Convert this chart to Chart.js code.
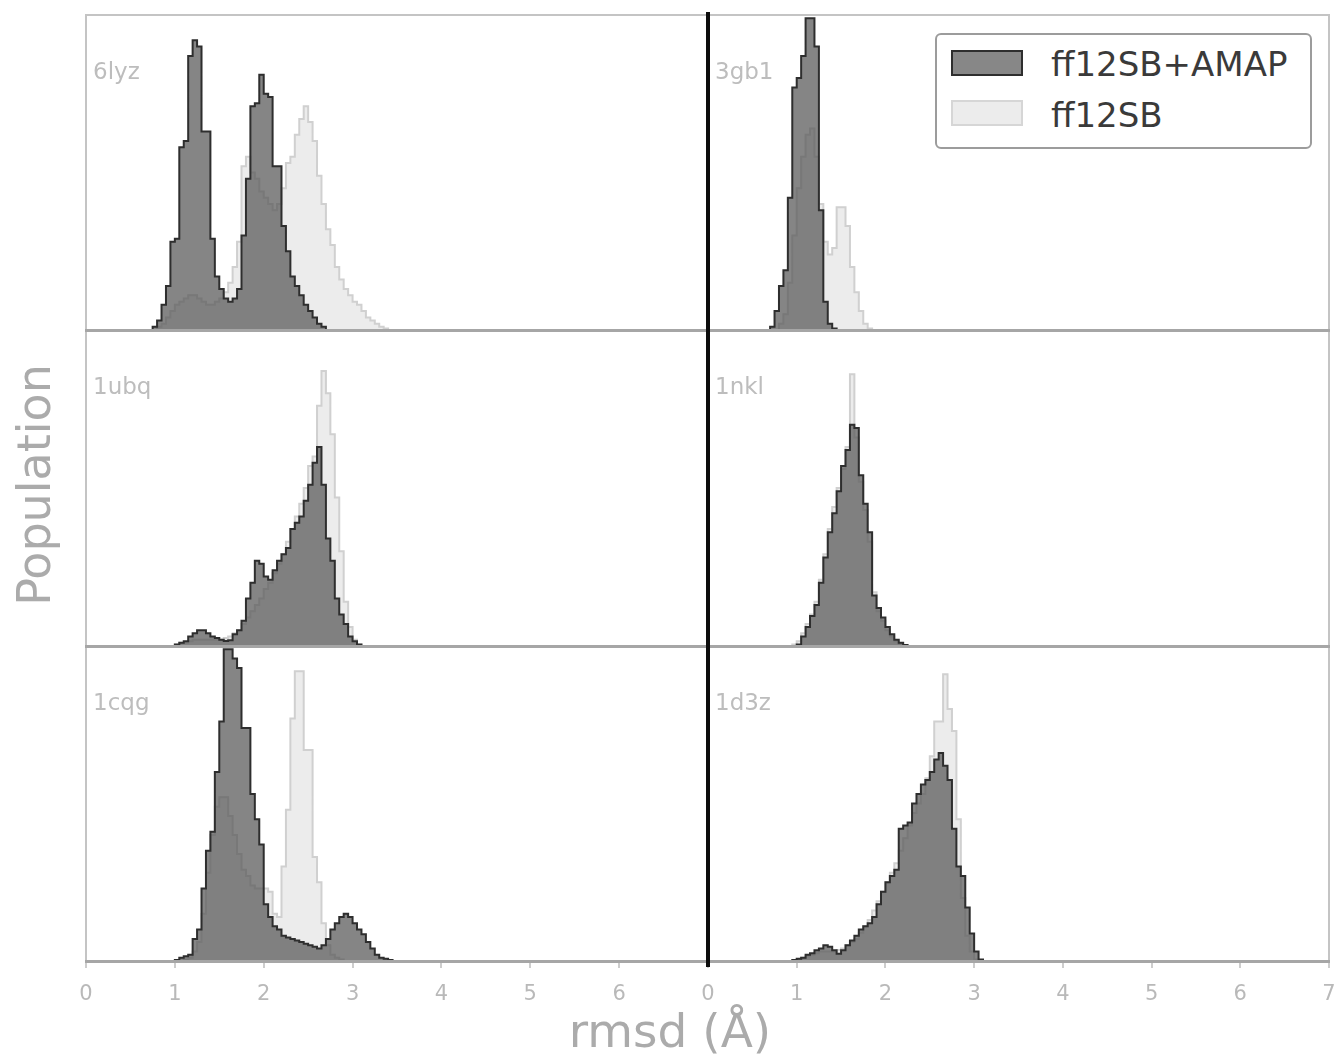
<!DOCTYPE html>
<html>
<head>
<meta charset="utf-8">
<title>rmsd histograms</title>
<script src="https://cdn.jsdelivr.net/npm/chart.js@4.4.0/dist/chart.umd.min.js"></script>
<style>
  body { margin: 0; background: #fff; }
  #fig { position: relative; width: 1340px; height: 1057px; overflow: hidden; background: #fff;
         font-family: "DejaVu Sans", sans-serif; }
  #fig canvas { position: absolute; }
  .line { position: absolute; }
  .tag { position: absolute; font-size: 23px; line-height: 1; color: #bdbdbd; }
  .axis-title { position: absolute; white-space: nowrap; color: #ababab; line-height: 1; }
  #legend { position: absolute; left: 935px; top: 33px; width: 377px; height: 116px; box-sizing: border-box;
            border: 2px solid #9c9c9c; border-radius: 6px; background: #fff; }
  #legend .sw { position: absolute; left: 14px; width: 72px; height: 26px; box-sizing: border-box; }
  #legend .lt { position: absolute; left: 114px; font-size: 34px; line-height: 1; color: #3a3a3a; }
</style>
</head>
<body>
<div id="fig"></div>
<script>
// Datos
const binWidth = 0.05;
const xTicks = [0, 1, 2, 3, 4, 5, 6, 7];
const panelNames = ['6lyz', '3gb1', '1ubq', '1nkl', '1cqg', '1d3z'];
const seriesNames = ['ff12SB+AMAP', 'ff12SB'];

// first bin edge of every histogram (same order as panelNames)
const amapStarts = [0.75, 0.70, 1.00, 1.00, 1.00, 0.95];
const ffStarts = [0.80, 0.80, 1.00, 0.95, 1.10, 1.00];

// population per 0.05 A bin, as % of the panel height
const amap6lyz = [1, 3, 8, 14, 28, 29, 58, 60, 87, 92, 90, 63, 63, 29, 17, 13, 10, 9, 10, 13,
  30, 48, 71, 72, 81, 75, 74, 52, 52, 33, 25, 17, 14, 11, 8, 6, 4, 2, 1];
const ff6lyz = [1, 2, 4, 6, 8, 9, 10, 11, 11, 10, 9, 8, 8, 9, 10, 12, 15, 20, 28, 52,
  55, 50, 48, 44, 42, 40, 38, 40, 45, 53, 55, 62, 67, 71, 66, 60, 49, 40, 32, 27,
  20, 16, 13, 11, 9, 8, 6, 4, 3, 2, 1, 0.5];

const amap3gb1 = [1, 6, 14, 19, 42, 77, 80, 87, 99, 99, 90, 38, 9, 2, 0.5];
const ff3gb1 = [2, 5, 15, 30, 45, 55, 62, 64, 55, 40, 28, 24, 26, 39, 39, 33, 20, 12, 6, 2, 0.5];

const amap1ubq = [0.5, 1, 1.5, 3, 4, 5, 5, 4, 3, 2.5, 2, 1.6, 1.8, 3.7, 5, 8, 15, 20, 27, 26,
  22, 21, 24, 27, 29, 31, 37, 39, 41, 46, 51, 58, 63, 51, 34, 27, 15, 10, 7, 3, 1.5, 0.5];
const ff1ubq = [0.5, 1, 1, 1.5, 2, 2, 2, 2, 2, 2, 2, 2.5, 3, 4, 5, 7, 9, 11, 13, 15,
  18, 20, 23, 26, 29, 33, 37, 41, 45, 50, 57, 60, 76, 87, 80, 67, 47, 30, 14, 6, 2, 0.5];

const amap1nkl = [0.5, 3, 6, 9.5, 13, 20, 28, 36, 42, 49, 57, 62, 70, 69, 54, 45, 36, 16, 12, 9,
  6, 3.7, 2, 1, 0.3];
const ff1nkl = [0.5, 1.5, 4, 7, 10, 14, 21, 29, 37, 44, 50, 56, 63, 86, 66, 52, 43, 33, 17, 11,
  8, 5, 3, 1.5, 0.5];

const amap1cqg = [0.3, 1, 1.5, 2, 7, 10, 23, 35, 41, 60, 76, 99, 99, 96, 93, 74, 74, 53, 45, 37,
  18, 14, 11, 10, 8, 7.5, 7, 6.5, 6, 5.5, 5, 4.5, 4, 5, 7, 10, 12, 14, 15, 14,
  12, 10, 8.5, 6, 4, 2, 1, 0.7, 0.3];
const ff1cqg = [0.5, 1, 3, 6, 15, 28, 40, 49, 52, 52, 46, 40, 34, 29, 27, 24, 23, 23, 23, 22,
  15, 14, 30, 48, 77, 92, 92, 67, 67, 33, 25, 12, 5, 2, 1, 0.5];

const amap1d3z = [0.3, 0.7, 1, 2, 2.5, 3.4, 4, 5, 4.5, 3.4, 2.3, 3.4, 5, 6.5, 8, 10, 11, 12, 14, 18,
  22, 25, 27, 29, 42, 43, 44, 50, 53, 56, 57.5, 60, 64, 66, 62, 57.5, 42, 30, 27, 17,
  8.7, 3, 0.5];
const ff1d3z = [0.5, 1, 1.5, 2, 2.5, 3, 3, 3, 3, 3.5, 4, 5, 6, 7, 9, 11, 13, 16, 19, 22,
  25, 28, 31, 35, 39, 43, 47, 50, 53, 58, 65, 76, 76, 91, 80, 73, 45, 20, 8, 3, 0.5];

const amapBins = [amap6lyz, amap3gb1, amap1ubq, amap1nkl, amap1cqg, amap1d3z];
const ffBins = [ff6lyz, ff3gb1, ff1ubq, ff1nkl, ff1cqg, ff1d3z];

// layout of the figure (pixels)
const cols = [{ l: 86, r: 708 }, { l: 708, r: 1329 }];
const rows = [{ t: 15, b: 330 }, { t: 330, b: 646 }, { t: 646, b: 961 }];
const M = 20;      // spare room around every plot area
const AX = 52;     // height of the x axis under the bottom row

const fig = document.getElementById('fig');

// histogram outline: both edges of every bin
function steps(start, counts) {
  const pts = [{ x: start, y: 0 }];
  counts.forEach((c, i) => {
    const left = +(start + i * binWidth).toFixed(3);
    pts.push({ x: left, y: c }, { x: +(left + binWidth).toFixed(3), y: c });
  });
  pts.push({ x: pts[pts.length - 1].x, y: 0 });
  return pts;
}

panelNames.forEach((name, i) => {
  const col = cols[i % 2];
  const row = rows[Math.floor(i / 2)];
  const bottom = Math.floor(i / 2) === 2;
  const w = col.r - col.l, h = row.b - row.t;

  const cv = document.createElement('canvas');
  cv.width = w + 2 * M;
  cv.height = h + M + (bottom ? AX : M);
  cv.style.left = (col.l - M) + 'px';
  cv.style.top = (row.t - M) + 'px';
  fig.appendChild(cv);

  new Chart(cv, {
    type: 'line',
    data: {
      datasets: [{
        label: seriesNames[0],
        data: steps(amapStarts[i], amapBins[i]),
        borderColor: '#2e2e2e',
        backgroundColor: 'rgba(86,86,86,0.72)',
        borderWidth: 2,
        fill: 'origin',
        pointRadius: 0,
        tension: 0
      }, {
        label: seriesNames[1],
        data: steps(ffStarts[i], ffBins[i]),
        borderColor: '#d0d0d0',
        backgroundColor: '#ececec',
        borderWidth: 2,
        fill: 'origin',
        pointRadius: 0,
        tension: 0
      }]
    },
    options: {
      responsive: false,
      animation: false,
      events: [],
      devicePixelRatio: 1,
      layout: { padding: { left: M, right: M, top: M, bottom: bottom ? 0 : M } },
      plugins: { legend: { display: false }, tooltip: { enabled: false } },
      scales: {
        x: {
          type: 'linear',
          min: xTicks[0],
          max: xTicks[xTicks.length - 1],
          display: bottom,
          afterBuildTicks: s => { s.ticks = xTicks.map(v => ({ value: v })); },
          afterFit: s => {
            if (!bottom) return;
            s.height = AX; s.paddingLeft = 0; s.paddingRight = 0;
          },
          border: { display: false },
          grid: { drawOnChartArea: false, drawTicks: true, tickLength: 7, color: '#cdcdcd', lineWidth: 2 },
          ticks: {
            color: '#b9b9b9',
            padding: 14,
            maxRotation: 0,
            autoSkip: false,
            font: { family: 'DejaVu Sans', size: 21 },
            // the left column hides its 7, the right column shows 0 there
            callback: v => (i % 2 === 0 && v === 7) ? '' : v
          }
        },
        y: { min: 0, max: 100, display: false }
      }
    }
  });

  const tag = document.createElement('div');
  tag.className = 'tag';
  tag.textContent = name;
  tag.style.left = (col.l + 7) + 'px';
  tag.style.top = (row.t + 45) + 'px';
  fig.appendChild(tag);
});

// frame lines
function addLine(l, t, w, h, c) {
  const d = document.createElement('div');
  d.className = 'line';
  Object.assign(d.style, { left: l + 'px', top: t + 'px', width: w + 'px', height: h + 'px', background: c });
  fig.appendChild(d);
}
addLine(85, 14, 1245, 2, '#c4c4c4');
addLine(85, 14, 2, 948, '#c4c4c4');
addLine(1328, 14, 2, 948, '#c4c4c4');
rows.forEach(r => addLine(85, r.b - 1, 1245, 3, '#a6a6a6'));
addLine(706, 12, 4, 955, '#0d0d0d');

// axis titles
const yTitle = document.createElement('div');
yTitle.className = 'axis-title';
yTitle.textContent = 'Population';
Object.assign(yTitle.style, { left: '34px', top: '485px', fontSize: '46px',
  transform: 'translate(-50%,-50%) rotate(-90deg)' });
fig.appendChild(yTitle);

const xTitle = document.createElement('div');
xTitle.className = 'axis-title';
xTitle.textContent = 'rmsd (Å)';
Object.assign(xTitle.style, { left: '670px', top: '1030px', fontSize: '47px',
  transform: 'translate(-50%,-50%)' });
fig.appendChild(xTitle);

// legend
const legend = document.createElement('div');
legend.id = 'legend';
legend.innerHTML =
  '<div class="sw" style="top:15px;background:#878787;border:2px solid #2e2e2e"></div>' +
  '<div class="lt" style="top:12px">' + seriesNames[0] + '</div>' +
  '<div class="sw" style="top:65px;background:#ececec;border:2px solid #d6d6d6"></div>' +
  '<div class="lt" style="top:63px">' + seriesNames[1] + '</div>';
fig.appendChild(legend);
</script>
</body>
</html>
